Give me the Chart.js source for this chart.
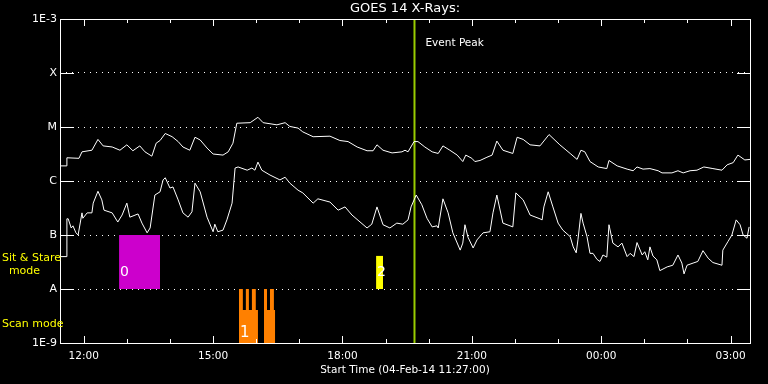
<!DOCTYPE html>
<html><head><meta charset="utf-8">
<script src="https://cdn.jsdelivr.net/npm/chart.js@4/dist/chart.umd.min.js"></script>
<style>html,body{margin:0;padding:0;background:#000;overflow:hidden;}</style>
</head><body>
<canvas id="c" width="768" height="384"></canvas>
<script>
// ---- data (time in hours of 04-Feb-14; >24 means next day) ----
const chartTitle = 'GOES 14 X-Rays:';
const xAxisTitle = 'Start Time (04-Feb-14 11:27:00)';
const timeMinH = 11.45, timeMaxH = 27.45;
const xTickHours = [12,13,14,15,16,17,18,19,20,21,22,23,24,25,26,27];
const xMajorHours = [12,15,18,21,24,27];
const xMajorLabels = ['12:00','15:00','18:00','21:00','00:00','03:00'];
const yTickValues = [1e-9,1e-8,1e-7,1e-6,1e-5,1e-4,1e-3];
const yTickLabels = ['1E-9','A','B','C','M','X','1E-3'];

// GOES long channel (1-8 A), log10 flux
const longTimeH = [11.45,11.59,11.61,11.89,11.96,12.19,12.33,12.45,12.66,12.84,
  13.00,13.14,13.30,13.42,13.58,13.68,13.77,13.89,14.05,14.19,
  14.30,14.46,14.58,14.70,14.86,15.00,15.23,15.35,15.46,15.55,
  15.86,16.04,16.16,16.48,16.67,16.78,16.97,17.08,17.32,17.71,
  17.94,18.13,18.34,18.57,18.71,18.80,18.94,19.15,19.38,19.45,
  19.52,19.66,19.75,19.91,20.08,20.22,20.33,20.49,20.66,20.79,
  20.86,21.00,21.07,21.19,21.35,21.47,21.58,21.72,21.95,22.05,
  22.19,22.35,22.58,22.79,23.04,23.28,23.44,23.53,23.62,23.74,
  23.93,24.13,24.18,24.37,24.60,24.74,24.83,24.97,25.13,25.32,
  25.41,25.64,25.78,25.90,26.06,26.22,26.38,26.59,26.80,26.92,
  27.06,27.17,27.33,27.45];
const longLog10 = [-5.72,-5.72,-5.57,-5.58,-5.46,-5.43,-5.23,-5.35,-5.37,-5.43,
  -5.33,-5.44,-5.35,-5.46,-5.54,-5.30,-5.25,-5.12,-5.18,-5.27,
  -5.37,-5.43,-5.19,-5.24,-5.39,-5.50,-5.52,-5.46,-5.30,-4.93,
  -4.92,-4.82,-4.92,-4.96,-4.92,-4.99,-5.02,-5.09,-5.18,-5.17,
  -5.25,-5.27,-5.37,-5.44,-5.44,-5.33,-5.43,-5.48,-5.46,-5.43,
  -5.46,-5.27,-5.27,-5.37,-5.46,-5.49,-5.35,-5.43,-5.52,-5.64,
  -5.52,-5.58,-5.64,-5.62,-5.56,-5.52,-5.26,-5.43,-5.49,-5.19,
  -5.23,-5.33,-5.35,-5.14,-5.33,-5.49,-5.60,-5.43,-5.46,-5.64,
  -5.74,-5.77,-5.62,-5.72,-5.78,-5.81,-5.74,-5.78,-5.77,-5.81,
  -5.85,-5.85,-5.81,-5.85,-5.81,-5.80,-5.74,-5.77,-5.80,-5.70,
  -5.66,-5.52,-5.61,-5.60];

// GOES short channel (0.5-4 A), log10 flux
const shortTimeH = [11.45,11.59,11.61,11.64,11.71,11.75,11.82,11.87,11.96,11.98,
  12.08,12.19,12.22,12.33,12.42,12.47,12.66,12.79,12.89,13.00,
  13.07,13.26,13.35,13.47,13.54,13.65,13.77,13.84,13.89,14.00,
  14.07,14.19,14.30,14.42,14.51,14.58,14.70,14.86,15.00,15.04,
  15.11,15.23,15.32,15.44,15.51,15.58,15.79,15.90,15.97,16.04,
  16.13,16.32,16.55,16.67,16.78,16.97,17.08,17.32,17.43,17.71,
  17.90,18.06,18.22,18.57,18.68,18.80,18.94,19.10,19.26,19.40,
  19.52,19.59,19.71,19.84,19.96,20.08,20.19,20.22,20.33,20.45,
  20.56,20.73,20.79,20.84,20.91,21.03,21.12,21.26,21.42,21.49,
  21.58,21.72,21.95,22.02,22.19,22.35,22.58,22.63,22.67,22.77,
  22.88,23.00,23.11,23.28,23.35,23.42,23.46,23.53,23.58,23.67,
  23.74,23.81,23.90,23.97,24.04,24.13,24.18,24.27,24.39,24.48,
  24.60,24.67,24.76,24.83,24.95,25.01,25.08,25.13,25.20,25.29,
  25.36,25.53,25.66,25.78,25.87,25.92,25.99,26.13,26.24,26.36,
  26.48,26.59,26.80,26.82,26.94,27.03,27.13,27.22,27.29,27.38,
  27.43];
const shortLog10 = [-7.40,-7.40,-6.70,-6.70,-6.87,-6.83,-6.96,-7.00,-6.59,-6.69,
  -6.59,-6.59,-6.41,-6.19,-6.35,-6.54,-6.59,-6.76,-6.63,-6.41,
  -6.67,-6.61,-6.78,-6.96,-6.87,-6.26,-6.20,-5.98,-5.94,-6.13,
  -6.11,-6.35,-6.59,-6.67,-6.57,-6.04,-6.20,-6.67,-6.94,-6.80,
  -6.94,-6.91,-6.72,-6.41,-5.76,-5.74,-5.80,-5.76,-5.80,-5.65,
  -5.80,-5.89,-5.98,-5.93,-6.04,-6.17,-6.22,-6.41,-6.33,-6.39,
  -6.54,-6.48,-6.63,-6.87,-6.80,-6.48,-6.81,-6.87,-6.78,-6.80,
  -6.72,-6.48,-6.26,-6.44,-6.69,-6.85,-6.83,-6.87,-6.33,-6.59,
  -6.96,-7.28,-7.15,-6.81,-7.04,-7.24,-7.09,-6.96,-6.94,-6.59,
  -6.26,-6.78,-6.85,-6.22,-6.35,-6.63,-6.70,-6.72,-6.48,-6.20,
  -6.48,-6.78,-6.91,-7.03,-7.22,-7.33,-7.09,-6.60,-6.78,-7.03,
  -7.34,-7.34,-7.45,-7.49,-7.37,-7.41,-6.81,-7.15,-7.22,-7.15,
  -7.40,-7.34,-7.40,-7.14,-7.37,-7.31,-7.46,-7.22,-7.39,-7.46,
  -7.66,-7.59,-7.56,-7.37,-7.52,-7.72,-7.56,-7.52,-7.49,-7.29,
  -7.43,-7.51,-7.56,-7.28,-7.12,-7.00,-6.72,-6.81,-7.00,-7.06,
  -6.85];

// Event peak
const eventPeakH = 19.67;
const eventLabel = 'Event Peak';

// Sit & Stare blocks: start, end, top flux, bottom flux, label
const stareStartH = [12.82, 18.78];
const stareEndH   = [13.77, 18.94];
const stareTop    = [1e-7, 4.1e-8];
const stareBottom = [1e-8, 1e-8];
const stareLabels = ['0', '2'];
const stareColors = ['#cc00cc', '#ffff00'];
const stareLabelFlux = 2.05e-8;

// Scan mode blocks (stepped profile)
const scanTimesH = [[15.60,15.69,15.76,15.83,15.90,15.99,16.04],[16.18,16.25,16.32,16.41,16.44]];
const scanFlux   = [[1e-8,4.1e-9,1e-8,4.1e-9,1e-8,4.1e-9,4.1e-9],[1e-8,4.1e-9,1e-8,4.1e-9,4.1e-9]];
const scanLabels = ['1'];
const scanLabelFlux = 1.53e-9;

const rowLegends = [['Sit & Stare', 2, 258, 'left'], ['mode', 24.5, 271, 'center'], ['Scan mode', 2, 324, 'left']];

// ---- build datasets ----
const pts = (xs, ys) => xs.map((t, i) => ({x: t, y: ys[i]}));
const datasets = [
  {data: pts(longTimeH, longLog10.map(v => Math.pow(10, v))), borderColor: '#ffffff', borderWidth: 1, pointRadius: 0, tension: 0, fill: false},
  {data: pts(shortTimeH, shortLog10.map(v => Math.pow(10, v))), borderColor: '#ffffff', borderWidth: 1, pointRadius: 0, tension: 0, fill: false},
  {data: [{x: eventPeakH, y: 1e-9}, {x: eventPeakH, y: 1e-3}], borderColor: '#99cc00', borderWidth: 2, pointRadius: 0, fill: false}
];
stareStartH.forEach((s, i) => {
  datasets.push({data: [{x: s, y: stareTop[i]}, {x: stareEndH[i], y: stareTop[i]}], borderColor: 'rgba(0,0,0,0)', borderWidth: 1,
    backgroundColor: stareColors[i], pointRadius: 0, fill: {value: stareBottom[i]}});
});
scanTimesH.forEach((ts, i) => {
  datasets.push({data: pts(ts, scanFlux[i]), stepped: true, borderColor: 'rgba(0,0,0,0)', borderWidth: 1,
    backgroundColor: '#ff8000', pointRadius: 0, fill: 'start'});
});

const overlay = {
  id: 'overlay',
  afterDatasetsDraw(chart) {
    const {ctx, chartArea: a, scales: {x, y}} = chart;
    ctx.save();
    ctx.strokeStyle = '#ffffff';
    ctx.lineWidth = 1;
    ctx.strokeRect(a.left + 0.5, a.top + 0.5, a.right - a.left, a.bottom - a.top);
    ctx.beginPath();
    x.ticks.forEach(t => {
      const px = Math.round(x.getPixelForValue(t.value)) + 0.5;
      const len = xMajorHours.includes(t.value) ? 7 : 4;
      ctx.moveTo(px, a.bottom); ctx.lineTo(px, a.bottom - len);
      ctx.moveTo(px, a.top); ctx.lineTo(px, a.top + len);
    });
    y.ticks.forEach(t => {
      if (t.value <= y.min * 1.0001 || t.value >= y.max * 0.9999) return;
      const py = Math.round(y.getPixelForValue(t.value)) + 0.5;
      ctx.moveTo(a.left, py); ctx.lineTo(a.left + 14, py);
      ctx.moveTo(a.right - 13, py); ctx.lineTo(a.right, py);
    });
    ctx.stroke();

    ctx.fillStyle = '#ffffff';
    ctx.textBaseline = 'middle';
    ctx.textAlign = 'left';
    ctx.font = '10.5px "DejaVu Sans"';
    ctx.fillText(eventLabel, x.getPixelForValue(eventPeakH) + 11, a.top + 24);

    ctx.font = '14px "DejaVu Sans"';
    stareStartH.forEach((s, i) => {
      ctx.fillText(stareLabels[i], x.getPixelForValue(s) + 1, y.getPixelForValue(stareLabelFlux));
    });
    ctx.font = '15px "DejaVu Sans"';
    scanLabels.forEach((l, i) => {
      ctx.fillText(l, x.getPixelForValue(scanTimesH[i][0]) + 1, y.getPixelForValue(scanLabelFlux));
    });

    ctx.fillStyle = '#ffff00';
    ctx.font = '11px "DejaVu Sans"';
    rowLegends.forEach(([txt, lx, ly, al]) => {
      ctx.textAlign = al;
      ctx.fillText(txt, lx, ly);
    });
    ctx.restore();
  }
};

Chart.defaults.font.family = '"DejaVu Sans", sans-serif';
Chart.defaults.color = '#ffffff';

new Chart(document.getElementById('c'), {
  type: 'line',
  data: {datasets},
  plugins: [overlay],
  options: {
    responsive: false,
    animation: false,
    devicePixelRatio: 1,
    layout: {padding: {left: 0, right: 18, top: 0, bottom: 0}},
    plugins: {
      legend: {display: false},
      tooltip: {enabled: false},
      title: {display: true, text: chartTitle, color: '#ffffff', fullSize: false,
        font: {family: '"DejaVu Sans"', size: 13, weight: 'normal', lineHeight: 14/13},
        padding: {top: 2, bottom: 3}}
    },
    scales: {
      x: {
        type: 'linear', min: timeMinH, max: timeMaxH,
        afterBuildTicks: s => { s.ticks = xTickHours.map(v => ({value: v})); },
        afterFit: s => { s.height = 41; },
        grid: {display: false, drawTicks: false},
        border: {display: false},
        ticks: {
          autoSkip: false, maxRotation: 0, padding: 7, color: '#ffffff',
          font: {size: 10.5},
          callback: v => { const i = xMajorHours.indexOf(v); return i >= 0 ? xMajorLabels[i] : ''; }
        },
        title: {display: true, text: xAxisTitle, color: '#ffffff', font: {size: 10.5}, padding: {top: 0, bottom: 7}}
      },
      y: {
        type: 'logarithmic', min: 1e-9, max: 1e-3,
        afterBuildTicks: s => { s.ticks = yTickValues.map(v => ({value: v})); },
        afterFit: s => { s.width = 60; },
        grid: {display: true, color: '#ffffff', lineWidth: 1, drawTicks: false},
        border: {display: false, dash: [1, 5]},
        ticks: {
          padding: 3, color: '#ffffff', font: {size: 11},
          callback: v => { const i = yTickValues.findIndex(t => Math.abs(Math.log10(t) - Math.log10(v)) < 1e-6); return i >= 0 ? yTickLabels[i] : ''; }
        }
      }
    }
  }
});
</script>
</body></html>
